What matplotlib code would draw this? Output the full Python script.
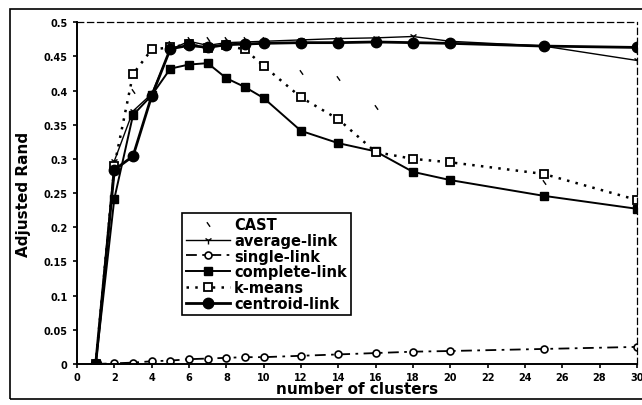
import matplotlib
matplotlib.use("Agg")
import matplotlib.pyplot as plt
from matplotlib.patches import Rectangle

plt.rcParams["font.family"] = ["DejaVu Sans"]
plt.rcParams["font.weight"] = "bold"

# number of clusters evaluated for every method
clusters = [1, 2, 3, 4, 5, 6, 7, 8, 9, 10, 12, 14, 16, 18, 20, 25, 30]

cast = [0, 0.29, 0.40, 0.46, 0.47, 0.475, 0.475, 0.475, 0.475, 0.475,
        0.427, 0.418, 0.376, 0.30, 0.30, 0.266, 0.24]
average_link = [0, 0.297, 0.37, 0.395, 0.46, 0.472, 0.466, 0.470, 0.471, 0.472,
                0.474, 0.476, 0.477, 0.479, 0.472, 0.465, 0.444]
single_link = [0, 0.001, 0.002, 0.004, 0.005, 0.007, 0.008, 0.009, 0.010, 0.010,
               0.012, 0.014, 0.016, 0.018, 0.019, 0.022, 0.025]
complete_link = [0, 0.242, 0.364, 0.393, 0.432, 0.438, 0.440, 0.418, 0.405, 0.389,
                 0.341, 0.323, 0.311, 0.281, 0.269, 0.246, 0.227]
k_means = [0, 0.29, 0.424, 0.46, 0.463, 0.468, 0.462, 0.466, 0.460, 0.436,
           0.390, 0.358, 0.310, 0.300, 0.295, 0.278, 0.240]
centroid_link = [0, 0.284, 0.304, 0.392, 0.461, 0.466, 0.463, 0.467, 0.468, 0.469,
                 0.470, 0.470, 0.471, 0.470, 0.469, 0.465, 0.463]

x_ticks = list(range(0, 31, 2))
y_ticks = [0, 0.05, 0.1, 0.15, 0.2, 0.25, 0.3, 0.35, 0.4, 0.45, 0.5]
y_labels = ["0", "0.05", "0.1", "0.15", "0.2", "0.25", "0.3", "0.35", "0.4", "0.45", "0.5"]

fig = plt.figure(figsize=(6.42, 4.06), dpi=100)
ax = fig.add_axes([0.12, 0.101, 0.872, 0.842])

# outer chart border
fig.patches.append(Rectangle((0.0156, 0.0148), 1.0, 0.96, transform=fig.transFigure,
                             fill=False, edgecolor="black", linewidth=1.2))

# CAST connecting line is too thin to show, only its tick marks remain
ax.plot(clusters, cast, ls="none", marker=(2, 0, 35), ms=4, mew=1.0,
        mec="black", label="CAST")
ax.plot(clusters, average_link, color="black", lw=1.0,
        marker="1", ms=6, mew=1.0, label="average-link")
ax.plot(clusters, single_link, color="black", lw=1.3, ls=(0, (6, 3, 1.5, 3)),
        marker="o", ms=5, mfc="white", mew=1.2, label="single-link")
ax.plot(clusters, complete_link, color="black", lw=1.4,
        marker="s", ms=6.3, label="complete-link")
ax.plot(clusters, k_means, color="black", lw=1.8, ls=(0, (1, 2.5)),
        marker="s", ms=5.3, mfc="white", mew=1.3, label="k-means")
ax.plot(clusters, centroid_link, color="black", lw=2.0,
        marker="o", ms=7.5, label="centroid-link")

ax.set_xlim(0, 30)
ax.set_ylim(0, 0.5)
ax.set_xticks(x_ticks)
ax.set_yticks(y_ticks)
ax.set_yticklabels(y_labels)
ax.tick_params(axis="both", direction="out", length=3, width=1.2, labelsize=7, pad=4)
ax.tick_params(axis="x", pad=3)

for side in ("left", "bottom"):
    ax.spines[side].set_linewidth(1.4)
for side in ("top", "right"):
    ax.spines[side].set_linestyle((0, (5, 3)))
    ax.spines[side].set_linewidth(0.9)

ax.set_xlabel("number of clusters", fontsize=11, fontweight="bold", labelpad=-1)
ax.set_ylabel("Adjusted Rand", fontsize=11, fontweight="bold", labelpad=9)

leg = ax.legend(loc="lower left", bbox_to_anchor=(0.187, 0.143), fontsize=10.5,
                frameon=True, fancybox=False, edgecolor="black", framealpha=1,
                handlelength=3.0, handletextpad=0.3, borderpad=0.3,
                labelspacing=0.05, borderaxespad=0)
leg.get_frame().set_linewidth(1.2)

fig.savefig("out.png", dpi=100)
